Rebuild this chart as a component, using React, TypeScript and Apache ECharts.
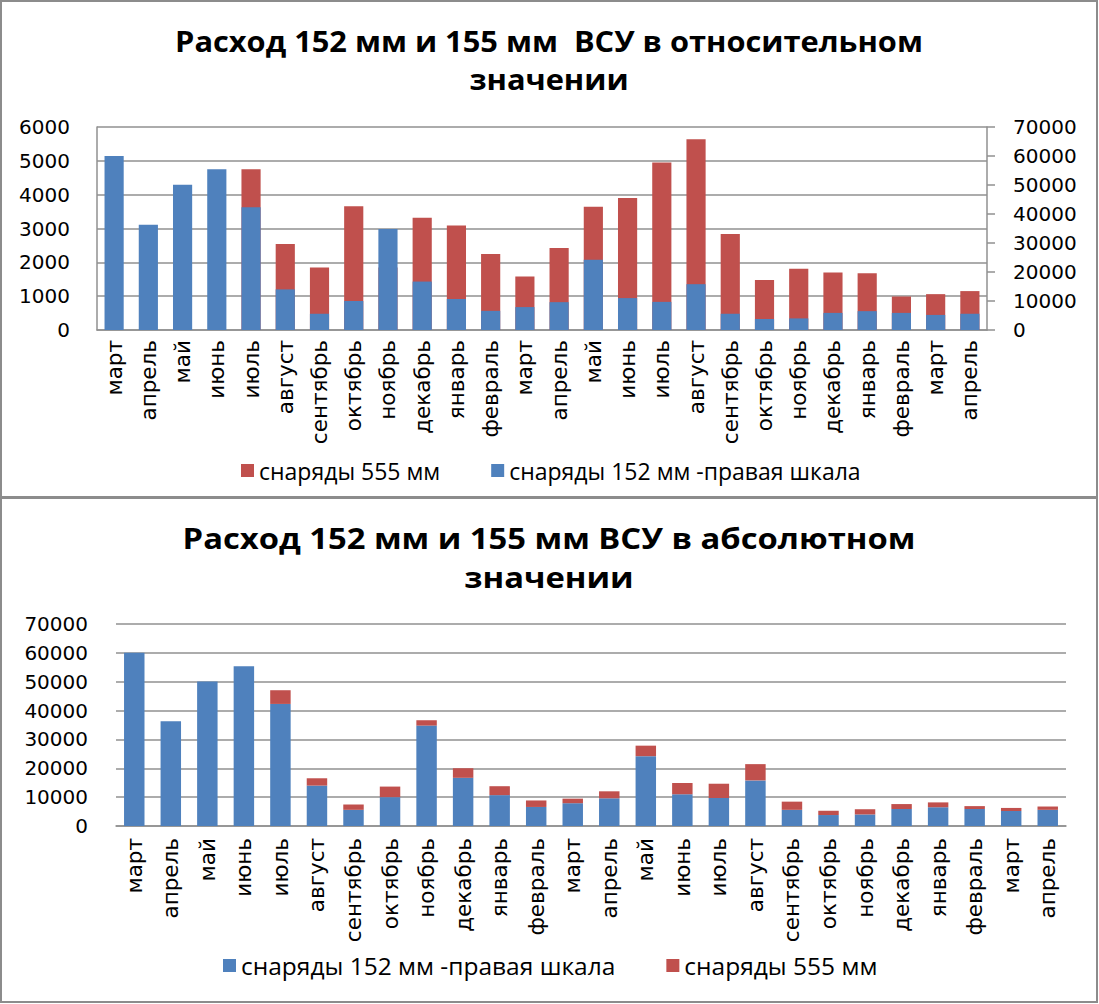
import React, { useEffect, useRef } from "react";
import * as echarts from "echarts";

const categories = [
  "март", "апрель", "май", "июнь", "июль", "август", "сентябрь", "октябрь", "ноябрь", "декабрь", "январь", "февраль",
  "март", "апрель", "май", "июнь", "июль", "август", "сентябрь", "октябрь", "ноябрь", "декабрь", "январь", "февраль",
  "март", "апрель",
];

const shells152 = [
  60000, 36300, 50100, 55400, 42300, 14000, 5600, 10000, 34800, 16700, 10700, 6600,
  7900, 9600, 24200, 11000, 9700, 15800, 5600, 3800, 4000, 5900, 6500, 5900,
  5200, 5600,
];

const shells555 = [
  0, 0, 0, 0, 4750, 2540, 1850, 3660, 1850, 3320, 3090, 2250,
  1580, 2420, 3640, 3900, 4950, 5640, 2840, 1480, 1810, 1700, 1680, 990,
  1060, 1150,
];

const leftTicksTop = [0, 1000, 2000, 3000, 4000, 5000, 6000];
const rightTicksTop = [0, 10000, 20000, 30000, 40000, 50000, 60000, 70000];
const ticksBottom = [0, 10000, 20000, 30000, 40000, 50000, 60000, 70000];

const titleTopLines = ["Расход 152 мм и 155 мм  ВСУ в относительном", "значении"];
const titleBottomLines = ["Расход 152 мм и 155 мм ВСУ в абсолютном", "значении"];
const name152 = "снаряды 152 мм -правая шкала";
const name555 = "снаряды 555 мм";

const BLUE = "#4F81BD";
const RED = "#C0504D";
const GRID = "#909090";
const AXISFONT = "DejaVu Sans";
const TITLEFONT = "Open Sans";

function titleText(text: string, y: number, scaleX: number) {
  return {
    type: "text",
    x: 549,
    y,
    scaleX,
    silent: true,
    style: {
      text,
      font: `bold 28px "${TITLEFONT}"`,
      fill: "#000",
      textAlign: "center",
      textVerticalAlign: "middle",
    },
  };
}

export default function App() {
  const ref = useRef<HTMLDivElement>(null);

  useEffect(() => {
    document.body.style.margin = "0";
    if (!ref.current) return;
    const chart = echarts.init(ref.current, null, { renderer: "svg" });

    const fmt = (v: number) => String(v);
    const axisLabel = { fontFamily: AXISFONT, fontSize: 20, color: "#000", formatter: fmt };
    const catLabel = { fontFamily: AXISFONT, fontSize: 21.5, color: "#000", rotate: 90, interval: 0 };

    chart.setOption({
      animation: false,
      backgroundColor: "#fff",
      legend: [
        {
          data: [name555, name152],
          left: 236,
          top: 454,
          itemWidth: 13,
          itemHeight: 13,
          itemGap: 51,
          icon: "rect",
          textStyle: { fontFamily: TITLEFONT, fontSize: 23, color: "#000" },
        },
        {
          data: [name152, name555],
          left: 218,
          top: 948,
          itemWidth: 13,
          itemHeight: 13,
          itemGap: 51,
          icon: "rect",
          textStyle: { fontFamily: TITLEFONT, fontSize: 24.5, color: "#000" },
        },
      ],
      grid: [
        { left: 97, right: 112, top: 127, height: 203 },
        { left: 116, right: 33, top: 624, height: 202 },
      ],
      xAxis: [
        {
          type: "category",
          gridIndex: 0,
          data: categories,
          axisLine: { show: true, lineStyle: { color: GRID, width: 1.5 } },
          axisTick: { show: false },
          axisLabel: { ...catLabel, margin: 10 },
        },
        {
          type: "category",
          gridIndex: 1,
          data: categories,
          axisLine: { show: true, lineStyle: { color: GRID, width: 1.5 } },
          axisTick: { show: false },
          axisLabel: { ...catLabel, margin: 12 },
        },
      ],
      yAxis: [
        {
          type: "value",
          gridIndex: 0,
          min: leftTicksTop[0],
          max: leftTicksTop[leftTicksTop.length - 1],
          interval: 1000,
          axisLine: { show: true, lineStyle: { color: GRID, width: 1.5 } },
          axisTick: { show: false },
          splitLine: { show: true, lineStyle: { color: GRID, width: 1.5 } },
          axisLabel: { ...axisLabel, margin: 27 },
        },
        {
          type: "value",
          gridIndex: 0,
          position: "right",
          min: rightTicksTop[0],
          max: rightTicksTop[rightTicksTop.length - 1],
          interval: 10000,
          axisLine: { show: true, lineStyle: { color: GRID, width: 1.5 } },
          axisTick: { show: true, length: 8, lineStyle: { color: GRID, width: 1.5 } },
          splitLine: { show: false },
          axisLabel: { ...axisLabel, margin: 26 },
        },
        {
          type: "value",
          gridIndex: 1,
          min: ticksBottom[0],
          max: ticksBottom[ticksBottom.length - 1],
          interval: 10000,
          axisLine: { show: false },
          axisTick: { show: false },
          splitLine: { show: true, lineStyle: { color: GRID, width: 1.5 } },
          axisLabel: { ...axisLabel, margin: 28 },
        },
      ],
      series: [
        {
          name: name555,
          type: "bar",
          xAxisIndex: 0,
          yAxisIndex: 0,
          data: shells555,
          itemStyle: { color: RED },
          barCategoryGap: "44%",
          barGap: "-100%",
        },
        {
          name: name152,
          type: "bar",
          xAxisIndex: 0,
          yAxisIndex: 1,
          data: shells152,
          itemStyle: { color: BLUE },
          barCategoryGap: "44%",
          barGap: "-100%",
        },
        {
          name: name152,
          type: "bar",
          xAxisIndex: 1,
          yAxisIndex: 2,
          stack: "abs",
          data: shells152,
          itemStyle: { color: BLUE },
          barCategoryGap: "44%",
        },
        {
          name: name555,
          type: "bar",
          xAxisIndex: 1,
          yAxisIndex: 2,
          stack: "abs",
          data: shells555,
          itemStyle: { color: RED },
          barCategoryGap: "44%",
        },
      ],
      graphic: [
        titleText(titleTopLines[0], 42, 1.1),
        titleText(titleTopLines[1], 80, 1.1),
        titleText(titleBottomLines[0], 538, 1.17),
        titleText(titleBottomLines[1], 577, 1.17),
        {
          type: "rect",
          shape: { x: 1, y: 1, width: 1096, height: 496 },
          style: { fill: "none", stroke: "#8c8c8c", lineWidth: 2 },
          silent: true,
        },
        {
          type: "rect",
          shape: { x: 1, y: 498, width: 1096, height: 504 },
          style: { fill: "none", stroke: "#8c8c8c", lineWidth: 2 },
          silent: true,
        },
      ],
    });

    return () => chart.dispose();
  }, []);

  return <div ref={ref} style={{ width: 1099, height: 1004 }} />;
}
